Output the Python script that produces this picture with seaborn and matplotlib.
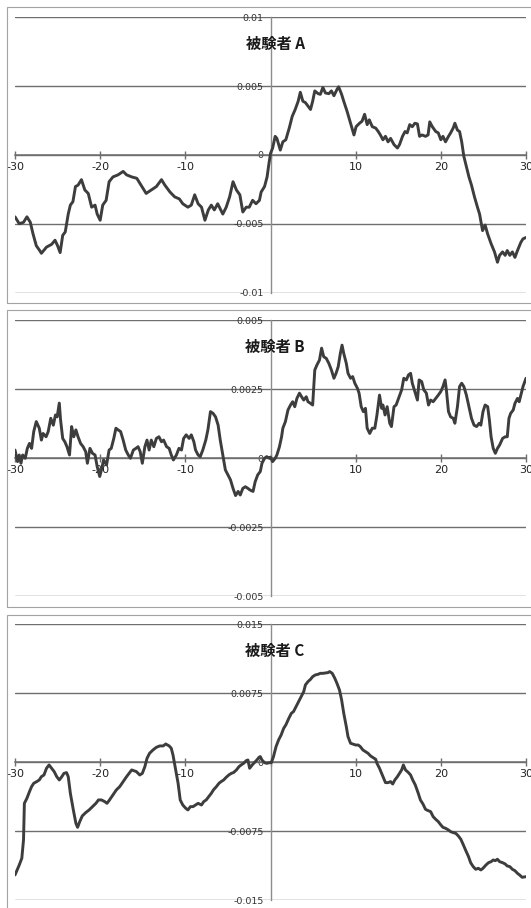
import numpy as np
import pandas as pd
import matplotlib
matplotlib.use("Agg")
import matplotlib.pyplot as plt
from matplotlib.patches import Rectangle
import seaborn as sns

sns.set_theme(style="white")
plt.rcParams["font.family"] = ["Noto Sans CJK JP", "DejaVu Sans"]

# ---- data (displacement values are stored in units of 1e-3) ----
a_time = [-30.0, -29.5, -29.0, -28.6, -28.2, -27.9, -27.5, -27.1, -26.9, -26.3,
          -25.7, -25.3, -25.0, -24.7, -24.4, -24.1, -23.75, -23.5, -23.2, -22.9,
          -22.6, -22.2, -21.8, -21.4, -21.0, -20.6, -20.35, -20.0, -19.7, -19.3,
          -18.95, -18.5, -17.9, -17.3, -16.9, -16.3, -15.7, -15.2, -14.6, -14.0,
          -13.4, -12.8, -12.4, -11.8, -11.25, -10.7, -10.3, -9.7, -9.3, -8.9,
          -8.5, -8.1, -7.7, -7.3, -6.95, -6.6, -6.2, -5.6, -5.2, -4.8,
          -4.4, -4.0, -3.6, -3.25, -2.85, -2.5, -2.1, -1.7, -1.3, -1.1,
          -0.7, -0.4, -0.2, 0.0,
          0.25, 0.55, 0.75, 1.15, 1.45, 1.8, 2.2, 2.55, 2.9, 3.25,
          3.5, 3.8, 4.1, 4.4, 4.7, 4.95, 5.2, 5.6, 5.85, 6.15,
          6.45, 6.85, 7.15, 7.45, 7.8, 8.0, 8.35, 8.6, 9.0, 9.4,
          9.8, 10.05, 10.45, 10.75, 11.05, 11.35, 11.6, 11.95, 12.35, 12.65,
          12.9, 13.2, 13.5, 13.8, 14.1, 14.5, 14.9, 15.15, 15.5, 15.8,
          16.05, 16.35, 16.65, 16.95, 17.25, 17.5, 17.8, 18.2, 18.5, 18.7,
          19.0, 19.4, 19.7, 20.0, 20.25, 20.55, 20.9, 21.15, 21.45, 21.65,
          21.95, 22.2, 22.45, 22.7, 23.0, 23.3, 23.6, 23.95, 24.3, 24.55,
          24.9, 25.2, 25.5, 25.9, 26.3, 26.65, 26.9, 27.25, 27.55, 27.8,
          28.1, 28.4, 28.7, 29.0, 29.4, 29.65, 30.0]
a_value = [-4.5, -5.0, -4.9, -4.5, -4.9, -5.7, -6.6, -6.95, -7.15, -6.7,
           -6.5, -6.2, -6.6, -7.1, -5.85, -5.6, -4.3, -3.65, -3.4, -2.3,
           -2.2, -1.8, -2.55, -2.8, -3.8, -3.65, -4.3, -4.75, -3.65, -3.3,
           -1.95, -1.6, -1.45, -1.2, -1.45, -1.6, -1.7, -2.2, -2.8, -2.55,
           -2.3, -1.8, -2.2, -2.7, -3.05, -3.2, -3.55, -3.8, -3.65, -2.9,
           -3.55, -3.8, -4.75, -4.0, -3.65, -4.0, -3.55, -4.3, -3.8, -3.05,
           -1.95, -2.55, -2.9, -4.15, -3.8, -3.8, -3.3, -3.55, -3.3, -2.7,
           -2.3, -1.6, -0.7, 0.1,
           0.5, 1.35, 1.2, 0.35, 0.95, 1.1, 1.95, 2.8, 3.3, 3.9,
           4.55, 3.9, 3.8, 3.55, 3.3, 3.9, 4.65, 4.45, 4.4, 4.9,
           4.5, 4.45, 4.65, 4.3, 4.75, 4.95, 4.4, 3.9, 3.15, 2.3,
           1.45, 2.05, 2.3, 2.45, 2.95, 2.2, 2.55, 2.05, 1.95, 1.7,
           1.45, 1.1, 1.35, 0.95, 1.2, 0.75, 0.5, 0.75, 1.35, 1.7,
           1.6, 2.2, 2.05, 2.3, 2.25, 1.35, 1.45, 1.35, 1.45, 2.4,
           2.05, 1.7, 1.6, 1.1, 1.35, 0.95, 1.35, 1.6, 1.95, 2.3,
           1.8, 1.7, 0.95, -0.1, -0.85, -1.6, -2.2, -3.05, -3.8, -4.3,
           -5.5, -5.1, -5.75, -6.45, -7.05, -7.8, -7.3, -7.05, -7.3, -6.95,
           -7.3, -7.05, -7.45, -6.95, -6.35, -6.1, -6.0]

b_time = [-30.0, -29.7, -29.5, -29.3, -29.1, -28.8, -28.55, -28.3, -28.05, -27.8,
          -27.5, -27.15, -26.9, -26.7, -26.35, -26.1, -25.8, -25.5, -25.25, -25.05,
          -24.8, -24.65, -24.4, -24.15, -23.9, -23.6, -23.35, -23.1, -22.85, -22.6,
          -22.3, -22.0, -21.7, -21.5, -21.2, -20.9, -20.6, -20.35, -20.05, -19.85,
          -19.6, -19.25, -18.95, -18.7, -18.4, -18.15, -17.9, -17.6, -17.3, -17.0,
          -16.7, -16.45, -16.1, -15.8, -15.55, -15.3, -15.05, -14.75, -14.5, -14.25,
          -14.0, -13.7, -13.4, -13.1, -12.8, -12.55, -12.2, -11.9, -11.65, -11.4,
          -11.05, -10.75, -10.45, -10.2, -9.9, -9.55, -9.3, -9.0, -8.8, -8.5,
          -8.25, -7.95, -7.6, -7.35, -7.05, -6.75, -6.45, -6.15, -5.9, -5.6,
          -5.3, -5.0, -4.7, -4.4, -4.1, -3.8, -3.55, -3.25, -2.95, -2.65,
          -2.4, -2.05, -1.8, -1.5, -1.2, -1.0, -0.7, -0.45, -0.1,
          0.0, 0.25, 0.55, 0.75, 1.05, 1.3, 1.45, 1.75, 2.05, 2.35,
          2.6, 2.85, 3.1, 3.4, 3.65, 3.9, 4.2, 4.4, 4.7, 4.95,
          5.2, 5.45, 5.75, 6.0, 6.25, 6.55, 6.85, 7.15, 7.45, 7.7,
          7.95, 8.2, 8.4, 8.6, 8.9, 9.1, 9.4, 9.65, 9.9, 10.2,
          10.4, 10.65, 10.9, 11.15, 11.35, 11.65, 11.95, 12.25, 12.5, 12.8,
          13.05, 13.2, 13.45, 13.7, 14.0, 14.2, 14.5, 14.75, 15.1, 15.4,
          15.65, 15.95, 16.2, 16.45, 16.65, 16.95, 17.25, 17.45, 17.75, 18.0,
          18.3, 18.55, 18.8, 19.1, 19.4, 19.7, 20.0, 20.25, 20.5, 20.65,
          20.9, 21.15, 21.45, 21.65, 21.95, 22.2, 22.45, 22.7, 23.0, 23.3,
          23.6, 23.9, 24.2, 24.5, 24.7, 24.95, 25.2, 25.5, 25.7, 25.9,
          26.15, 26.4, 26.65, 26.9, 27.25, 27.55, 27.8, 28.0, 28.2, 28.5,
          28.7, 29.0, 29.2, 29.4, 29.65, 30.0]
b_value = [0.3, -0.12, 0.12, -0.18, 0.12, 0.0, 0.36, 0.54, 0.36, 0.97,
           1.33, 1.09, 0.66, 0.9, 0.78, 0.97, 1.45, 1.2, 1.57, 1.5,
           2.0, 1.39, 0.72, 0.6, 0.42, 0.12, 1.15, 0.78, 1.03, 0.78,
           0.54, 0.42, 0.24, -0.18, 0.36, 0.18, 0.12, -0.3, -0.66, -0.42,
           -0.06, -0.24, 0.3, 0.36, 0.72, 1.09, 1.03, 0.97, 0.66, 0.3,
           0.12, 0.0, 0.3, 0.36, 0.42, 0.24, -0.18, 0.42, 0.66, 0.3,
           0.66, 0.42, 0.72, 0.78, 0.6, 0.66, 0.42, 0.36, 0.12, -0.06,
           0.12, 0.36, 0.3, 0.72, 0.85, 0.72, 0.85, 0.6, 0.3, 0.12,
           0.06, 0.3, 0.66, 1.03, 1.69, 1.63, 1.5, 1.2, 0.66, 0.12,
           -0.42, -0.6, -0.78, -1.09, -1.35, -1.2, -1.33, -1.09, -1.03, -1.09,
           -1.15, -1.2, -0.85, -0.6, -0.48, -0.18, 0.0, 0.06, 0.0,
           0.04, -0.12, 0.0, 0.12, 0.42, 0.78, 1.09, 1.33, 1.75, 1.93,
           2.05, 1.87, 2.17, 2.36, 2.23, 2.11, 2.23, 2.05, 1.99, 1.93,
           3.2, 3.38, 3.56, 3.99, 3.68, 3.62, 3.44, 3.2, 2.9, 3.08,
           3.32, 3.8, 4.1, 3.8, 3.44, 3.08, 2.9, 2.96, 2.72, 2.54,
           2.36, 1.87, 1.69, 1.81, 1.09, 0.9, 1.09, 1.09, 1.57, 2.29,
           1.81, 1.93, 1.57, 1.87, 1.27, 1.15, 1.87, 1.93, 2.23, 2.48,
           2.9, 2.84, 3.02, 3.08, 2.72, 2.42, 2.11, 2.84, 2.78, 2.48,
           2.36, 1.93, 2.11, 2.05, 2.17, 2.29, 2.42, 2.6, 2.84, 2.48,
           1.69, 1.5, 1.45, 1.27, 1.87, 2.6, 2.72, 2.6, 2.29, 1.87,
           1.45, 1.2, 1.15, 1.27, 1.2, 1.69, 1.93, 1.87, 1.39, 0.78,
           0.36, 0.18, 0.36, 0.48, 0.72, 0.78, 0.78, 1.45, 1.63, 1.75,
           1.99, 2.17, 2.05, 2.29, 2.6, 2.9]

c_time = [-30.0, -29.5, -29.2, -29.0, -28.9, -28.6, -28.3, -28.05, -27.8, -27.45,
          -27.15, -26.9, -26.6, -26.3, -26.0, -25.7, -25.4, -25.1, -24.8, -24.5,
          -24.25, -23.95, -23.75, -23.5, -23.15, -22.85, -22.65, -22.4, -22.1, -21.7,
          -21.3, -20.9, -20.5, -20.2, -19.85, -19.45, -19.2, -18.9, -18.5, -18.1,
          -17.7, -17.3, -16.9, -16.6, -16.3, -16.05, -15.75, -15.35, -15.05, -14.75,
          -14.5, -14.2, -13.8, -13.4, -13.0, -12.6, -12.3, -11.9, -11.65, -11.45,
          -11.2, -10.85, -10.6, -10.3, -9.95, -9.7, -9.4, -9.1, -8.8, -8.5,
          -8.1, -7.85, -7.55, -7.2, -6.95, -6.7, -6.35, -6.05, -5.8, -5.5,
          -5.2, -4.9, -4.6, -4.35, -4.0, -3.7, -3.45, -3.15, -2.85, -2.65,
          -2.45, -2.15, -1.9, -1.6, -1.35, -1.2, -1.0, -0.7, -0.45, -0.1,
          0.1, 0.35, 0.65, 0.95, 1.25, 1.55, 1.8, 2.15, 2.45, 2.7,
          3.0, 3.3, 3.6, 3.9, 4.1, 4.4, 4.7, 4.95, 5.25, 5.6,
          5.85, 6.15, 6.45, 6.75, 6.95, 7.25, 7.55, 7.8, 8.1, 8.35,
          8.6, 8.9, 9.1, 9.4, 9.65, 10.0, 10.3, 10.55, 10.85, 11.15,
          11.45, 11.75, 12.0, 12.35, 12.5, 12.8, 13.05, 13.3, 13.5, 13.8,
          14.1, 14.35, 14.6, 14.9, 15.15, 15.4, 15.6, 15.85, 16.2, 16.45,
          16.7, 17.0, 17.35, 17.6, 17.9, 18.2, 18.5, 18.8, 19.1, 19.4,
          19.7, 20.0, 20.25, 20.55, 20.9, 21.15, 21.45, 21.75, 22.05, 22.35,
          22.6, 22.9, 23.25, 23.5, 23.8, 24.1, 24.4, 24.7, 24.95, 25.3,
          25.6, 25.9, 26.15, 26.4, 26.65, 26.9, 27.25, 27.55, 27.8, 28.1,
          28.4, 28.7, 29.0, 29.25, 29.55, 30.0]
c_value = [-12.25, -11.16, -10.43, -8.44, -4.46, -3.91, -3.19, -2.64, -2.28, -2.1,
           -1.92, -1.56, -1.38, -0.65, -0.29, -0.65, -1.01, -1.56, -1.92, -1.56,
           -1.2, -1.12, -1.56, -3.37, -5.18, -6.63, -7.07, -6.45, -5.83, -5.47,
           -5.18, -4.82, -4.46, -4.09, -4.09, -4.28, -4.46, -4.09, -3.55, -3.0,
           -2.64, -2.1, -1.56, -1.2, -0.83, -0.91, -1.01, -1.38, -1.2, -0.47,
           0.43, 0.98, 1.34, 1.63, 1.78, 1.78, 1.99, 1.78, 1.52, 0.8,
           -0.47, -2.28, -4.09, -4.64, -5.0, -5.18, -4.82, -4.82, -4.64, -4.46,
           -4.64, -4.28, -4.09, -3.66, -3.37, -3.0, -2.64, -2.28, -2.1, -1.92,
           -1.63, -1.38, -1.2, -1.12, -0.83, -0.47, -0.29, -0.11, 0.18, 0.25,
           -0.65, -0.29, -0.04, 0.25, 0.54, 0.62, 0.25, -0.04, -0.11, -0.04,
           -0.04, 0.62, 1.7, 2.43, 2.97, 3.7, 4.06, 4.78, 5.33, 5.51,
           6.05, 6.59, 7.14, 7.68, 8.41, 8.77, 9.02, 9.31, 9.49, 9.57,
           9.67, 9.67, 9.71, 9.75, 9.86, 9.67, 9.13, 8.59, 7.86, 6.78,
           5.33, 3.88, 2.79, 2.07, 1.99, 1.88, 1.88, 1.7, 1.34, 1.16,
           0.98, 0.69, 0.54, 0.33, -0.11, -0.65, -1.2, -1.74, -2.21, -2.21,
           -2.1, -2.36, -1.92, -1.56, -1.2, -0.83, -0.29, -0.83, -1.12, -1.38,
           -1.92, -2.46, -3.37, -4.09, -4.53, -5.11, -5.25, -5.36, -5.91, -6.2,
           -6.45, -6.81, -7.07, -7.17, -7.36, -7.54, -7.64, -7.72, -8.0, -8.37,
           -8.88, -9.53, -10.25, -10.91, -11.34, -11.63, -11.52, -11.7, -11.52, -11.16,
           -10.91, -10.8, -10.62, -10.69, -10.54, -10.8, -10.91, -11.05, -11.27, -11.34,
           -11.63, -11.78, -12.07, -12.25, -12.5, -12.43]

titles = ["被験者 A", "被験者 B", "被験者 C"]
y_ticks = [[-0.01, -0.005, 0.0, 0.005, 0.01],
           [-0.005, -0.0025, 0.0, 0.0025, 0.005],
           [-0.015, -0.0075, 0.0, 0.0075, 0.015]]
y_tick_labels = [["-0.01", "-0.005", "0", "0.005", "0.01"],
                 ["-0.005", "-0.0025", "0", "0.0025", "0.005"],
                 ["-0.015", "-0.0075", "0", "0.0075", "0.015"]]
x_ticks = [-30, -20, -10, 0, 10, 20, 30]
x_tick_labels = ["-30", "-20", "-10", "", "10", "20", "30"]

# ---- layout (pixels on a 531 x 908 canvas) ----
W, H = 531, 908
fig = plt.figure(figsize=(W / 100, H / 100), dpi=100)
fig.patch.set_facecolor("white")

axes_px = [(17.3, 292.5), (320.3, 596.3), (624.3, 900.3)]   # top, bottom
frames_px = [(7, 303), (310, 607), (615, 930)]              # top, bottom
left_px, right_px = 15, 526

LINE = "#3d3d3d"
GRID = "#6e6e6e"
VAXIS = "#8c8c8c"

series = [(a_time, a_value), (b_time, b_value), (c_time, c_value)]

for i, ((t, v), (top, bot)) in enumerate(zip(series, axes_px)):
    # panel frame
    ft, fb = frames_px[i]
    fig.patches.append(Rectangle((6.5 / W, 1 - fb / H), 1.2, (fb - ft) / H,
                                 transform=fig.transFigure, fill=False,
                                 edgecolor="#a3a3a3", linewidth=0.8))

    ax = fig.add_axes([left_px / W, 1 - bot / H, (right_px - left_px) / W, (bot - top) / H])
    ax.set_facecolor("none")

    df = pd.DataFrame({"time": t, "value": np.array(v) * 1e-3})
    sns.lineplot(data=df, x="time", y="value", ax=ax, color=LINE,
                 linewidth=2.1, estimator=None, sort=False, zorder=4)

    ax.set_xlim(-30, 30)
    ax.set_ylim(y_ticks[i][0], y_ticks[i][-1])
    ax.set_xlabel("")
    ax.set_ylabel("")

    ax.set_xticks(x_ticks)
    ax.set_xticklabels(x_tick_labels)
    ax.set_yticks(y_ticks[i])
    ax.set_yticklabels(y_tick_labels[i])

    for side in ("top", "right"):
        ax.spines[side].set_visible(False)
    ax.spines["left"].set_position(("data", 0))
    ax.spines["bottom"].set_position(("data", 0))
    ax.spines["left"].set_color(VAXIS)
    ax.spines["left"].set_linewidth(1.0)
    ax.spines["bottom"].set_color(GRID)
    ax.spines["bottom"].set_linewidth(1.1)

    ax.grid(axis="y", color=GRID, linewidth=1.0)
    ax.grid(axis="x", visible=False)
    ax.set_axisbelow(True)

    ax.tick_params(axis="x", direction="inout", length=6, width=1.0, color=GRID,
                   labelsize=8, pad=2, labelcolor="#222222", bottom=True)
    ax.tick_params(axis="y", length=0, pad=5, labelsize=6.8, labelcolor="#333333")
    for lab in ax.get_xticklabels() + ax.get_yticklabels():
        lab.set_family(["DejaVu Sans"])

    ax.text(0.509, 0.903, titles[i], transform=ax.transAxes, ha="center", va="center",
            fontsize=11, fontweight="bold", color="#1a1a1a", zorder=5)

fig.savefig("out.png", dpi=100, facecolor="white")
